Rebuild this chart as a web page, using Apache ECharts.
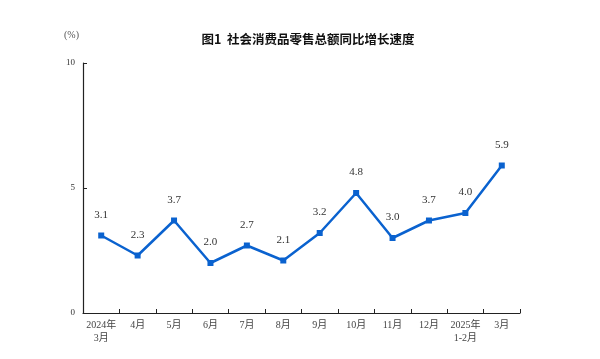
<!DOCTYPE html>
<html>
<head>
<meta charset="utf-8">
<style>
  html, body { margin: 0; padding: 0; background: #fff; }
  #chart { width: 600px; height: 359px; }
</style>
<script src="https://cdn.jsdelivr.net/npm/echarts@6/dist/echarts.min.js"></script>
</head>
<body>
<div id="chart"></div>
<script>
// 月份
var months = ['2024年\n3月', '4月', '5月', '6月', '7月', '8月', '9月', '10月', '11月', '12月', '2025年\n1-2月', '3月'];
// 同比增长速度（%）
var growth = [3.1, 2.3, 3.7, 2.0, 2.7, 2.1, 3.2, 4.8, 3.0, 3.7, 4.0, 5.9];

var myChart = echarts.init(document.getElementById('chart'));
var serif = '"Liberation Serif", "DejaVu Serif", "Noto Sans CJK SC", serif';

var option = {
  backgroundColor: '#fff',
  animation: false,
  title: {
    text: '图1  社会消费品零售总额同比增长速度',
    left: 303,
    textAlign: 'center',
    top: 28,
    textStyle: {
      fontFamily: '"Noto Sans CJK SC", sans-serif',
      fontSize: 12.5,
      fontWeight: 'bold',
      color: '#111'
    }
  },
  graphic: [
    {
      type: 'text',
      left: 64,
      top: 30,
      style: {
        text: '(%)',
        font: '10px ' + serif,
        fill: '#555'
      }
    }
  ],
  grid: {
    left: 83,
    right: 80,
    top: 63,
    bottom: 46,
    containLabel: false
  },
  xAxis: {
    type: 'category',
    boundaryGap: true,
    data: months,
    axisLine: {
      lineStyle: { color: '#222', width: 1.2 }
    },
    axisTick: {
      show: true,
      inside: true,
      length: 4,
      interval: 0,
      lineStyle: { color: '#222' }
    },
    axisLabel: {
      interval: 0,
      hideOverlap: false,
      margin: 6,
      fontFamily: serif,
      fontSize: 10,
      lineHeight: 13,
      color: '#444'
    }
  },
  yAxis: {
    type: 'value',
    min: 0,
    max: 10,
    interval: 5,
    axisLine: {
      show: true,
      lineStyle: { color: '#222', width: 1.2 }
    },
    axisTick: {
      show: true,
      inside: true,
      length: 4,
      lineStyle: { color: '#222' }
    },
    axisLabel: {
      margin: 8,
      fontFamily: serif,
      fontSize: 9,
      color: '#333'
    },
    splitLine: { show: false }
  },
  series: [
    {
      type: 'line',
      data: growth,
      symbol: 'rect',
      symbolSize: 6,
      itemStyle: { color: '#0a62cf' },
      lineStyle: { color: '#0a62cf', width: 2.5 },
      label: {
        show: true,
        position: 'top',
        distance: 12,
        fontFamily: serif,
        fontSize: 11,
        color: '#333',
        formatter: function (p) { return p.value.toFixed(1); }
      }
    }
  ]
};
myChart.setOption(option);
window.onresize = function () {
  myChart.resize();
};
</script>
</body>
</html>
